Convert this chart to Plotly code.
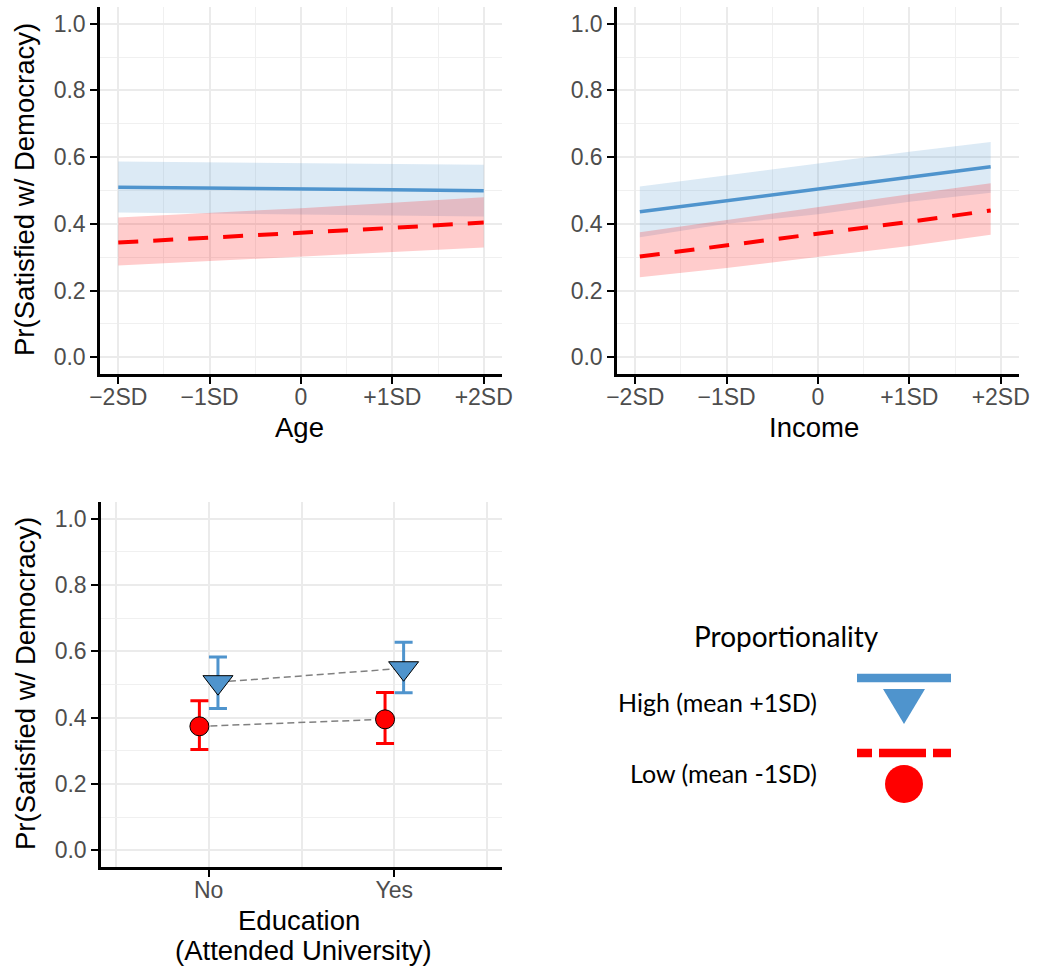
import plotly.graph_objects as go

# ---------------- data ----------------
sd_ticks = [-2, -1, 0, 1, 2]
sd_labels = ["\u22122SD", "\u22121SD", "0", "+1SD", "+2SD"]
y_ticks = [0.0, 0.2, 0.4, 0.6, 0.8, 1.0]

age_x = [-2, -1, 0, 1, 2]
age_high = [0.510, 0.508, 0.505, 0.502, 0.499]
age_high_hi = [0.587, 0.585, 0.582, 0.580, 0.577]
age_high_lo = [0.434, 0.431, 0.428, 0.425, 0.422]
age_low = [0.344, 0.358, 0.372, 0.388, 0.404]
age_low_hi = [0.419, 0.432, 0.447, 0.463, 0.480]
age_low_lo = [0.275, 0.288, 0.301, 0.315, 0.329]

inc_x = [-1.95, -1, 0, 1, 1.89]
inc_high = [0.436, 0.469, 0.504, 0.540, 0.571]
inc_high_hi = [0.512, 0.546, 0.581, 0.616, 0.645]
inc_high_lo = [0.360, 0.400, 0.429, 0.466, 0.493]
inc_low = [0.302, 0.335, 0.372, 0.406, 0.440]
inc_low_hi = [0.375, 0.412, 0.450, 0.489, 0.522]
inc_low_lo = [0.240, 0.268, 0.302, 0.334, 0.367]

edu_cats = ["No", "Yes"]
edu_high = [0.507, 0.549]
edu_high_lo = [0.428, 0.475]
edu_high_hi = [0.583, 0.627]
edu_low = [0.374, 0.395]
edu_low_lo = [0.304, 0.322]
edu_low_hi = [0.451, 0.476]

y_title = "Pr(Satisfied w/ Democracy)"
x_titles = ["Age", "Income"]
edu_title = ["Education", "(Attended University)"]
legend_title = "Proportionality"
legend_labels = ["High (mean +1SD)", "Low (mean -1SD)"]

# ---------------- style ----------------
BLUE = "#4F94CD"
RED = "#FF0000"
BLUE_FILL = "rgba(79,148,205,0.2)"
RED_FILL = "rgba(255,0,0,0.2)"
W, H = 1037, 971
FONT = "Liberation Sans, Arial, sans-serif"

fig = go.Figure()


def band(x, lo, hi, fill, xa, ya):
    fig.add_trace(go.Scatter(x=list(x) + list(x)[::-1], y=list(hi) + list(lo)[::-1],
                             fill="toself", fillcolor=fill, line=dict(width=0),
                             mode="lines", hoverinfo="skip", showlegend=False,
                             xaxis=xa, yaxis=ya))


for (xv, hm, hh, hl, lm, lh, ll, xa, ya) in [
    (age_x, age_high, age_high_hi, age_high_lo, age_low, age_low_hi, age_low_lo, "x", "y"),
    (inc_x, inc_high, inc_high_hi, inc_high_lo, inc_low, inc_low_hi, inc_low_lo, "x2", "y2"),
]:
    band(xv, hl, hh, BLUE_FILL, xa, ya)
    band(xv, ll, lh, RED_FILL, xa, ya)
    fig.add_trace(go.Scatter(x=xv, y=hm, mode="lines", line=dict(color=BLUE, width=3.5),
                             showlegend=False, xaxis=xa, yaxis=ya))
    fig.add_trace(go.Scatter(x=xv, y=lm, mode="lines",
                             line=dict(color=RED, width=4, dash="20px,15px"),
                             showlegend=False, xaxis=xa, yaxis=ya))

# education panel
dodge = 0.05
xpos = [i + 1 for i in range(len(edu_cats))]
x_low = [p - dodge for p in xpos]
x_high = [p + dodge for p in xpos]
for xs, ys in [(x_high, edu_high), (x_low, edu_low)]:
    fig.add_trace(go.Scatter(x=xs, y=ys, mode="lines",
                             line=dict(color="#808080", width=1.5, dash="7px,4px"),
                             showlegend=False, xaxis="x3", yaxis="y3"))
fig.add_trace(go.Scatter(
    x=x_low, y=edu_low, mode="markers",
    error_y=dict(type="data", symmetric=False,
                 array=[h - m for h, m in zip(edu_low_hi, edu_low)],
                 arrayminus=[m - l for m, l in zip(edu_low, edu_low_lo)],
                 color=RED, thickness=3, width=9),
    marker=dict(symbol="circle", size=19, color=RED, line=dict(color="black", width=1)),
    showlegend=False, xaxis="x3", yaxis="y3"))
fig.add_trace(go.Scatter(
    x=x_high, y=edu_high, mode="markers",
    error_y=dict(type="data", symmetric=False,
                 array=[h - m for h, m in zip(edu_high_hi, edu_high)],
                 arrayminus=[m - l for m, l in zip(edu_high, edu_high_lo)],
                 color=BLUE, thickness=3, width=9),
    marker=dict(symbol="triangle-down", size=26, color=BLUE, line=dict(color="black", width=1)),
    showlegend=False, xaxis="x3", yaxis="y3"))


def px_x(p):
    return p / W


def px_y(p):
    return 1 - p / H


tickfont = dict(family=FONT, size=23, color="#4D4D4D")
titlefont = dict(family=FONT, size=27.5, color="black")
common = dict(showline=True, linecolor="black", linewidth=2.5, ticks="outside",
              ticklen=7, tickwidth=2, tickcolor="black", zeroline=False,
              tickfont=tickfont, showgrid=True, gridcolor="#EBEBEB", gridwidth=2,
              automargin=False)
yaxis_common = dict(common, range=[-0.05, 1.05], tickvals=y_ticks,
                    ticktext=[f"{v:.1f}" for v in y_ticks],
                    minor=dict(tickvals=[0.1, 0.3, 0.5, 0.7, 0.9], showgrid=True,
                               gridcolor="#F0F0F0", gridwidth=1, ticks=""))
xsd_common = dict(common, range=[-2.2, 2.2], tickvals=sd_ticks, ticktext=sd_labels,
                  ticklabelstandoff=-6,
                  minor=dict(tickvals=[-1.5, -0.5, 0.5, 1.5], showgrid=True,
                             gridcolor="#F0F0F0", gridwidth=1, ticks=""))

top_y = [px_y(374), px_y(7)]
bot_y = [px_y(867), px_y(502)]

fig.update_layout(
    width=W, height=H, margin=dict(l=0, r=0, t=0, b=0, autoexpand=False),
    paper_bgcolor="white", plot_bgcolor="white", showlegend=False,
    xaxis=dict(xsd_common, domain=[px_x(100), px_x(502)], anchor="y"),
    yaxis=dict(yaxis_common, domain=top_y, anchor="x"),
    xaxis2=dict(xsd_common, domain=[px_x(617), px_x(1019)], anchor="y2"),
    yaxis2=dict(yaxis_common, domain=top_y, anchor="x2"),
    xaxis3=dict(common, domain=[px_x(101), px_x(502)], anchor="y3", range=[0.42, 2.58],
                tickvals=xpos, ticktext=edu_cats, ticklabelstandoff=-6,
                minor=dict(tickvals=[0.5, 1.5, 2.5], showgrid=True,
                           gridcolor="#EBEBEB", gridwidth=1.6, ticks="")),
    yaxis3=dict(yaxis_common, domain=bot_y, anchor="x3"),
)


def text_at(txt, x, y, font, xanchor="center", angle=0):
    fig.add_annotation(x=px_x(x), y=px_y(y), xref="paper", yref="paper", text=txt,
                       showarrow=False, xanchor=xanchor, yanchor="middle",
                       textangle=angle, font=font)


# axis titles
text_at(x_titles[0], 299, 427, titlefont)
text_at(x_titles[1], 814, 427, titlefont)
text_at(edu_title[0], 299, 920, titlefont)
text_at(edu_title[1], 303, 950, titlefont)
text_at(y_title, 25, 190, titlefont, angle=-90)
text_at(y_title, 25, 684, titlefont, angle=-90)

# ---------------- custom legend ----------------
LFONT = "Lato, Noto Sans, sans-serif"
text_at(legend_title, 786, 636, dict(family=LFONT, size=28, color="black"))
for lab, yc in zip(legend_labels, [702, 773]):
    text_at(lab, 819, yc, dict(family=LFONT, size=25, color="black"), xanchor="right")

fig.add_shape(type="line", xref="paper", yref="paper", x0=px_x(857), x1=px_x(951),
              y0=px_y(678), y1=px_y(678), line=dict(color=BLUE, width=8.5))
fig.add_shape(type="path", xref="paper", yref="paper",
              path=f"M {px_x(883)} {px_y(689)} L {px_x(925)} {px_y(689)} L {px_x(904)} {px_y(724)} Z",
              fillcolor=BLUE, line=dict(width=0))
for a, b in [(857, 872), (879, 926), (933, 951)]:
    fig.add_shape(type="line", xref="paper", yref="paper", x0=px_x(a), x1=px_x(b),
                  y0=px_y(753), y1=px_y(753), line=dict(color=RED, width=8.5))
fig.add_shape(type="circle", xref="paper", yref="paper",
              x0=px_x(885), x1=px_x(923), y0=px_y(765), y1=px_y(803),
              fillcolor=RED, line=dict(width=0))

fig.write_html("out.html", config={"displayModeBar": False},
               post_script="document.body.style.margin='0px';")
